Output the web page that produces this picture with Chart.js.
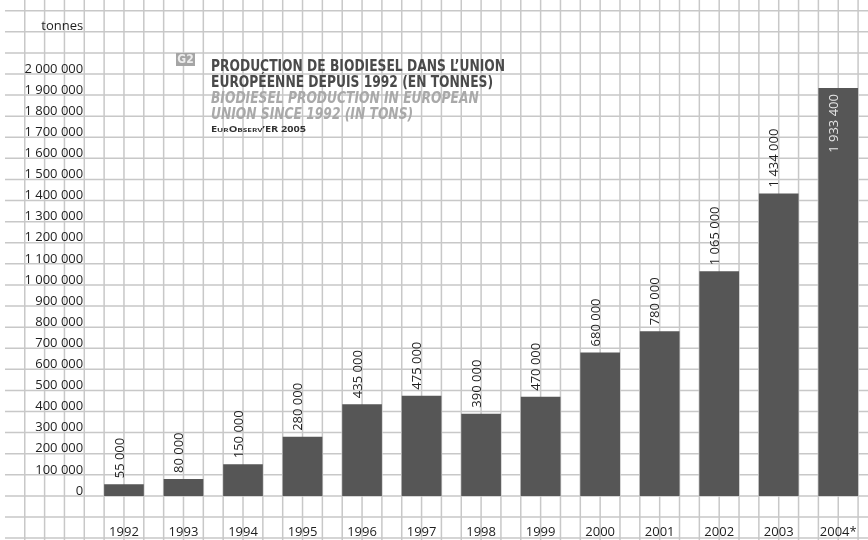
<!DOCTYPE html>
<html>
<head>
<meta charset="utf-8">
<script src="https://cdn.jsdelivr.net/npm/chart.js@4"></script>
<style>
  body { margin: 0; background: #fff; }
  canvas { display: block; }
</style>
</head>
<body>
<canvas id="myChart" width="868" height="540"></canvas>
<script>
const years = ['1992', '1993', '1994', '1995', '1996', '1997', '1998', '1999', '2000', '2001', '2002', '2003', '2004*'];
const production = [55000, 80000, 150000, 280000, 435000, 475000, 390000, 470000, 680000, 780000, 1065000, 1434000, 1933400];
const titleFr = ['PRODUCTION DE BIODIESEL DANS L’UNION', 'EUROPÉENNE DEPUIS 1992 (EN TONNES)'];
const titleEn = ['BIODIESEL PRODUCTION IN EUROPEAN', 'UNION SINCE 1992 (IN TONS)'];
const source = 'EurObserv’ER 2005';
const figureTag = 'G2';
const unitLabel = 'tonnes';

// 1933400 -> "1 933 400"
function fmt(v) {
  return String(v).replace(/\B(?=(\d{3})+(?!\d))/g, ' ');
}

// graph paper behind everything, lines follow the y ticks and a third of a category
const paper = {
  id: 'paper',
  beforeDraw(chart) {
    const { ctx, width, height, scales: { x, y } } = chart;
    ctx.save();
    ctx.strokeStyle = '#c8c8c8';
    ctx.lineWidth = 1.5;
    ctx.beginPath();
    for (let v = -200000; v <= 2300000; v += 100000) {
      const py = y.getPixelForValue(v);
      ctx.moveTo(5, py);
      ctx.lineTo(width, py);
    }
    const x0 = x.getPixelForValue(0);
    const cell = (x.getPixelForValue(1) - x0) / 3;
    for (let k = Math.ceil((10 - x0) / cell); x0 + k * cell <= width; k++) {
      const px = x0 + k * cell;
      ctx.moveTo(px, 0);
      ctx.lineTo(px, height);
    }
    ctx.stroke();
    ctx.restore();
  }
};

// vertical value labels on top of each bar
const barValues = {
  id: 'barValues',
  afterDatasetsDraw(chart) {
    const { ctx, scales: { y } } = chart;
    const limit = y.getPixelForValue(2000000);
    ctx.save();
    ctx.font = '13px "Open Sans", sans-serif';
    ctx.textBaseline = 'middle';
    chart.getDatasetMeta(0).data.forEach((bar, i) => {
      const text = fmt(production[i]);
      const w = ctx.measureText(text).width;
      const inside = bar.y - 6 - w < limit;
      ctx.save();
      ctx.translate(bar.x - 4, inside ? bar.y + 6 : bar.y - 6);
      ctx.rotate(-Math.PI / 2);
      ctx.textAlign = inside ? 'right' : 'left';
      ctx.fillStyle = inside ? '#e6e6e6' : '#1e1e1e';
      ctx.fillText(text, 0, 0);
      ctx.restore();
    });
    ctx.restore();
  }
};

// heading block with the figure tag
const heading = {
  id: 'heading',
  afterDraw(chart) {
    const ctx = chart.ctx;
    const narrow = '"Liberation Sans Narrow", "DejaVu Sans Condensed", "Roboto", sans-serif';
    ctx.save();
    ctx.fillStyle = '#a5a5a5';
    ctx.fillRect(176, 53, 19, 13);
    ctx.fillStyle = '#ececec';
    ctx.font = 'bold 12px ' + narrow;
    ctx.textAlign = 'center';
    ctx.textBaseline = 'middle';
    ctx.fillText(figureTag, 185.5, 60);

    ctx.textAlign = 'left';
    ctx.textBaseline = 'alphabetic';
    const bold = 'bold 15px ' + narrow;
    ctx.font = bold;
    const sx = 294 / ctx.measureText(titleFr[0]).width;
    const left = 211;
    const rows = [
      [titleFr[0], 71, '#4a4a4a', bold],
      [titleFr[1], 87, '#4a4a4a', bold],
      [titleEn[0], 103, '#a9a9a9', 'italic ' + bold],
      [titleEn[1], 118.5, '#a9a9a9', 'italic ' + bold]
    ];
    rows.forEach(([text, base, color, font]) => {
      ctx.save();
      ctx.font = font;
      ctx.fillStyle = color;
      ctx.translate(left, base);
      ctx.scale(sx, 1);
      ctx.fillText(text, 0, 0);
      ctx.restore();
    });

    ctx.font = 'bold 8px "Open Sans", sans-serif';
    ctx.fontVariantCaps = 'small-caps';
    ctx.fillStyle = '#333';
    const sw = 95 / ctx.measureText(source).width;
    ctx.translate(left, 132);
    ctx.scale(sw, 1);
    ctx.fillText(source, 0, 0);
    ctx.restore();
  }
};

Chart.defaults.font.family = '"Open Sans", sans-serif';
Chart.defaults.font.size = 13;
Chart.defaults.color = '#1e1e1e';

new Chart(document.getElementById('myChart'), {
  type: 'bar',
  data: {
    labels: years,
    datasets: [{
      label: 'Production',
      data: production,
      backgroundColor: '#565656',
      borderWidth: 0,
      barPercentage: 2 / 3,
      categoryPercentage: 1
    }]
  },
  options: {
    responsive: false,
    animation: false,
    layout: { padding: { top: 10.7, left: 0, right: 0, bottom: 0 } },
    plugins: {
      legend: { display: false },
      tooltip: { enabled: false }
    },
    scales: {
      x: {
        grid: { display: false, drawTicks: false },
        border: { display: false },
        ticks: { padding: 7, maxRotation: 0, autoSkip: false },
        afterFit(scale) { scale.height = 23; }
      },
      y: {
        min: -100000,
        max: 2300000,
        grid: { display: false, drawTicks: false },
        border: { display: false },
        ticks: {
          stepSize: 100000,
          padding: 11,
          labelOffset: -5,
          autoSkip: false,
          callback(v) {
            if (v === 2200000) return unitLabel;
            return v >= 0 && v <= 2000000 ? fmt(v) : '';
          }
        },
        afterFit(scale) {
          scale.width = 94.2;
          scale.paddingTop = 0;
          scale.paddingBottom = 0;
        }
      }
    }
  },
  plugins: [paper, barValues, heading]
});
</script>
</body>
</html>
